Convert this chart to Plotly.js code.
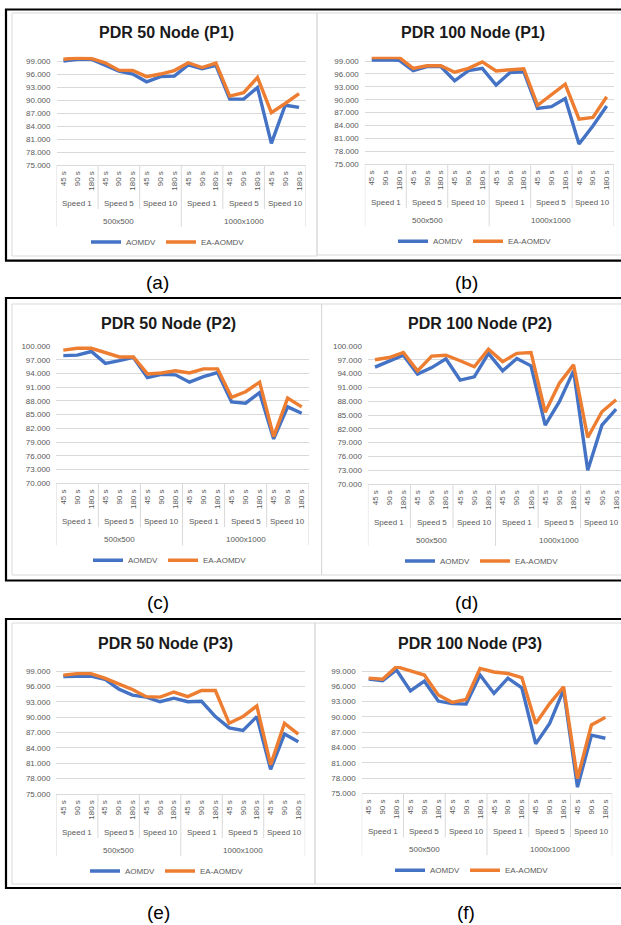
<!DOCTYPE html>
<html><head><meta charset="utf-8">
<script src="https://cdn.plot.ly/plotly-3.0.1.min.js"></script>
<style>html,body{margin:0;padding:0;overflow:hidden;background:#fff}</style>
</head><body><div id="chart"></div>
<script>
// ---------- data ----------
const times = ["45 s", "90 s", "180 s"];
const speeds = ["Speed 1", "Speed 5", "Speed 10"];
const areas = ["500x500", "1000x1000"];
const seriesNames = ["AOMDV", "EA-AOMDV"];
const panelTitles = ["PDR 50 Node (P1)", "PDR 100 Node (P1)", "PDR 50 Node (P2)", "PDR 100 Node (P2)", "PDR 50 Node (P3)", "PDR 100 Node (P3)"];
const panelLabels = ["(a)", "(b)", "(c)", "(d)", "(e)", "(f)"];

const pdr50P1_AOMDV  = [99.0, 99.4, 99.4, 98.1, 96.7, 96.0, 94.2, 95.4, 95.5, 98.1, 97.2, 98.0, 90.2, 90.2, 92.9, 80.0, 88.8, 88.3];
const pdr50P1_EA     = [99.4, 99.7, 99.6, 98.6, 96.9, 96.8, 95.4, 96.0, 96.8, 98.6, 97.5, 98.5, 90.9, 91.7, 95.2, 87.1, 89.2, 91.5];
const pdr100P1_AOMDV = [99.2, 99.3, 99.15, 96.75, 97.7, 97.7, 94.4, 96.75, 97.3, 93.4, 96.3, 96.5, 88.0, 88.4, 90.3, 79.7, 83.9, 88.55];
const pdr100P1_EA    = [99.8, 99.8, 99.8, 97.3, 97.9, 97.9, 96.4, 97.3, 98.8, 96.7, 96.9, 97.2, 88.7, 91.1, 93.6, 85.5, 85.9, 90.7];
const pdr50P2_AOMDV  = [97.9, 98.0, 98.8, 96.2, 96.8, 97.5, 93.1, 93.8, 93.7, 92.1, 93.3, 94.2, 87.8, 87.5, 89.8, 79.7, 86.7, 85.3];
const pdr50P2_EA     = [99.1, 99.5, 99.5, 98.6, 97.6, 97.6, 93.9, 94.1, 94.6, 94.1, 95.0, 95.0, 88.8, 90.0, 92.1, 80.2, 88.6, 86.7];
const pdr100P2_AOMDV = [95.4, 96.7, 98.0, 93.9, 95.3, 97.2, 92.6, 93.3, 98.4, 94.6, 97.3, 95.7, 82.8, 87.9, 94.6, 73.0, 82.8, 86.3];
const pdr100P2_EA    = [97.0, 97.5, 98.6, 94.6, 97.8, 98.0, 96.8, 95.5, 99.3, 96.6, 98.4, 98.6, 85.6, 91.9, 95.9, 80.1, 85.7, 88.3];
const pdr50P3_AOMDV  = [97.9, 98.0, 98.0, 97.4, 95.5, 94.3, 93.9, 93.0, 93.7, 93.0, 93.1, 90.1, 87.9, 87.4, 90.1, 79.8, 86.7, 85.2];
const pdr50P3_EA     = [98.2, 98.5, 98.5, 97.6, 96.5, 95.4, 94.0, 93.9, 94.9, 94.0, 95.2, 95.2, 88.8, 90.1, 92.2, 80.7, 88.8, 86.7];
const pdr100P3_AOMDV = [97.4, 97.1, 99.2, 95.1, 97.0, 93.1, 92.6, 92.5, 98.2, 94.6, 97.6, 95.7, 84.7, 88.7, 95.3, 76.2, 86.4, 85.8];
const pdr100P3_EA    = [97.6, 97.4, 99.85, 99.0, 98.2, 94.3, 92.85, 93.4, 99.5, 98.8, 98.5, 97.7, 88.7, 92.6, 95.9, 77.9, 88.4, 89.9];

const panelData = [
  [pdr50P1_AOMDV, pdr50P1_EA], [pdr100P1_AOMDV, pdr100P1_EA],
  [pdr50P2_AOMDV, pdr50P2_EA], [pdr100P2_AOMDV, pdr100P2_EA],
  [pdr50P3_AOMDV, pdr50P3_EA], [pdr100P3_AOMDV, pdr100P3_EA]
];
const yRanges = [[75, 100], [75, 100], [70, 100], [70, 100], [75, 100], [75, 100]];

// ---------- geometry / style ----------
const W = 640, H = 925;
const FONT = "Liberation Sans, Arial, sans-serif";
const colors = ["#4472C4", "#ED7D31"];
const gridColor = "#d9d9d9";
const textColor = "#595959";
const geo = [
  {L: 56.5, R: 306.0, T: 56.7,  B: 165.0, tx: 166, ty: 33,  lx: 157, ly: 282},
  {L: 364.8, R: 613.6, T: 56.7, B: 164.3, tx: 473, ty: 33,  lx: 466, ly: 282},
  {L: 56.3, R: 308.7, T: 346.0, B: 483.3, tx: 168, ty: 323, lx: 158, ly: 602},
  {L: 367.9, R: 623.2, T: 346.0, B: 484.0, tx: 480, ty: 323, lx: 466, ly: 602},
  {L: 56.4, R: 305.2, T: 665.9, B: 794.0, tx: 165, ty: 643, lx: 158, ly: 912},
  {L: 361.7, R: 612.3, T: 665.9, B: 793.3, tx: 470, ty: 643, lx: 466, ly: 912}
];
const rowFrames = [[9.5, 260.7], [298, 580.5], [619, 888]];
const chartRects = [[12, 13, 317, 256], [317, 13, 700, 255], [12, 304, 321.6, 575], [321.6, 304, 700, 575], [12, 623, 315, 884], [315, 623, 700, 884]];

const px = v => v / W;
const py = v => 1 - v / H;

// categories
const cats = [];
areas.forEach(a => speeds.forEach(s => times.forEach(t => cats.push({a, s, t}))));
const idx = cats.map((c, i) => i);
const tickText = cats.map(c => c.t);

const traces = [];
const layout = {
  width: W, height: H, margin: {l: 0, r: 0, t: 0, b: 0},
  paper_bgcolor: "#fff", plot_bgcolor: "rgba(0,0,0,0)",
  font: {family: FONT, color: textColor, size: 8},
  annotations: [], shapes: [], showlegend: true
};

// chart area borders and frames
chartRects.forEach(r => layout.shapes.push({type: "rect", xref: "paper", yref: "paper",
  x0: px(r[0]), x1: px(r[2]), y0: py(r[3]), y1: py(r[1]), line: {color: gridColor, width: 1}, layer: "below"}));
rowFrames.forEach(f => layout.shapes.push({type: "rect", xref: "paper", yref: "paper",
  x0: px(6), x1: px(700), y0: py(f[1]), y1: py(f[0]), line: {color: "#000", width: 2.2}}));

geo.forEach((g, i) => {
  const n = i === 0 ? "" : String(i + 1);
  const xa = "x" + n, ya = "y" + n, lg = "legend" + n;
  panelData[i].forEach((vals, k) => {
    traces.push({type: "scatter", mode: "lines", x: idx, y: vals, name: seriesNames[k],
      xaxis: xa, yaxis: ya, legend: lg, line: {color: colors[k], width: 3.4}, hoverinfo: "skip"});
  });
  const [ymin, ymax] = yRanges[i];
  const yt = [];
  for (let v = ymin; v <= ymax; v += 3) yt.push(v);
  layout["xaxis" + n] = {domain: [px(g.L), px(g.R)], anchor: ya, range: [-0.5, cats.length - 0.5],
    tickmode: "array", tickvals: idx, ticktext: tickText, tickangle: -90,
    tickfont: {size: 8, color: textColor, family: FONT}, showgrid: false, zeroline: false,
    showline: true, linecolor: gridColor, linewidth: 1, ticks: "", ticklabelstandoff: 2, fixedrange: true};
  layout["yaxis" + n] = {domain: [py(g.B), py(g.T)], anchor: xa, range: [ymin, ymax],
    tickmode: "array", tickvals: yt, tickformat: ".3f",
    tickfont: {size: 8, color: textColor, family: FONT}, showgrid: true, gridcolor: gridColor, gridwidth: 1,
    zeroline: false, showline: false, ticks: "", ticklabelstandoff: 5, fixedrange: true};
  layout[lg] = {orientation: "h", x: px(g.tx + 2), xanchor: "center", y: py(g.B + 77), yanchor: "middle",
    font: {size: 8, color: textColor, family: FONT}, bgcolor: "rgba(0,0,0,0)", itemwidth: 30, itemclick: false, itemdoubleclick: false};

  // title
  layout.annotations.push({xref: "paper", yref: "paper", x: px(g.tx), y: py(g.ty), xanchor: "center", yanchor: "middle",
    text: panelTitles[i], showarrow: false, font: {size: 16, color: "#1a1a1a", family: FONT, weight: 700}});
  // panel label
  layout.annotations.push({xref: "paper", yref: "paper", x: px(g.lx), y: py(g.ly), xanchor: "center", yanchor: "middle",
    text: panelLabels[i], showarrow: false, font: {size: 19, color: "#000", family: FONT}});
  // speed labels
  areas.forEach((a, ai) => speeds.forEach((s, si) => {
    layout.annotations.push({xref: xa, yref: "paper", x: ai * 9 + si * 3 + 1, y: py(g.B + 38.5), xanchor: "center", yanchor: "middle",
      text: s, showarrow: false, font: {size: 8, color: textColor, family: FONT}});
  }));
  // area labels
  areas.forEach((a, ai) => {
    layout.annotations.push({xref: xa, yref: "paper", x: ai * 9 + 4, y: py(g.B + 56), xanchor: "center", yanchor: "middle",
      text: a, showarrow: false, font: {size: 8, color: textColor, family: FONT}});
  });
  // dividers
  for (let k = 0; k <= 6; k++) {
    const len = (k % 3 === 0) ? 62 : 44;
    layout.shapes.push({type: "line", xref: xa, yref: "paper", x0: k * 3 - 0.5, x1: k * 3 - 0.5,
      y0: py(g.B), y1: py(g.B + len), line: {color: gridColor, width: 1}});
  }
});

Plotly.newPlot("chart", traces, layout, {displayModeBar: false, staticPlot: true});
</script>
</body></html>
